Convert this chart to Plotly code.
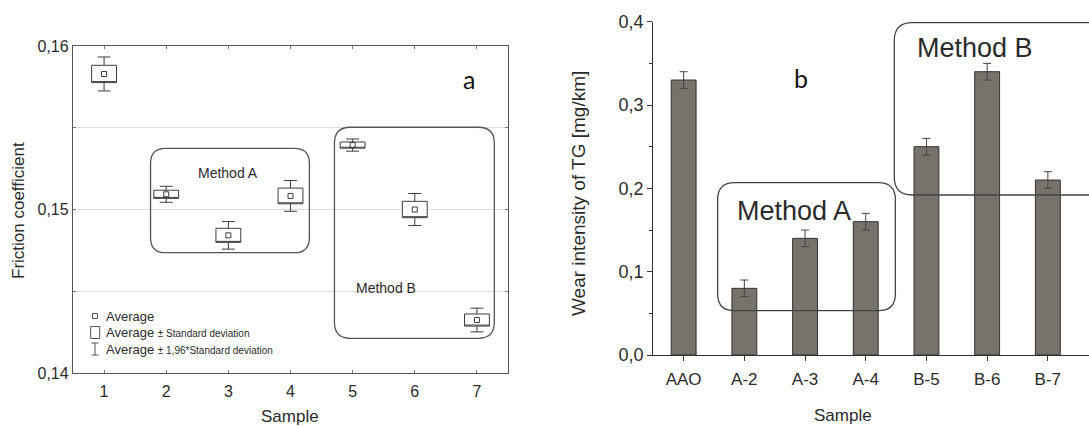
import plotly.graph_objects as go

# ---------------- data ----------------
# panel a: friction coefficient
samples_a = [1, 2, 3, 4, 5, 6, 7]
mean_a = [0.15829, 0.15093, 0.14842, 0.15083, 0.15394, 0.15000, 0.14324]
sd_a = [0.00053, 0.00025, 0.00043, 0.00048, 0.00019, 0.00050, 0.00037]

# panel b: wear intensity
cats_b = ["AAO", "A-2", "A-3", "A-4", "B-5", "B-6", "B-7"]
wear_b = [0.33, 0.08, 0.14, 0.16, 0.25, 0.34, 0.21]
err_b = [0.01, 0.01, 0.01, 0.01, 0.01, 0.01, 0.01]

W, H = 1089, 427
FONT = "Arial, Liberation Sans, sans-serif"
INK = "#2b2b2b"

# layout geometry (pixels -> paper)
LA_X = (73 / W, 508 / W)
LA_Y = (1 - 373 / H, 1 - 46 / H)
RB_X = (653.3 / W, 1.0)
RB_Y = (1 - 355 / H, 1 - 21.7 / H)
XR_A = [0.5, 7.5]
YR_A = [0.14, 0.16]
XR_B = [-0.5, 6.678]
YR_B = [0.0, 0.4]

q1 = [m - s for m, s in zip(mean_a, sd_a)]
q3 = [m + s for m, s in zip(mean_a, sd_a)]
lf = [m - 1.96 * s for m, s in zip(mean_a, sd_a)]
uf = [m + 1.96 * s for m, s in zip(mean_a, sd_a)]

fig = go.Figure()

fig.add_trace(go.Box(
    x=samples_a, q1=q1, median=q1, q3=q3, lowerfence=lf, upperfence=uf,
    width=0.4, whiskerwidth=0.52, boxpoints=False,
    fillcolor="white", line=dict(color="#3c3c3c", width=1),
    xaxis="x", yaxis="y", showlegend=False, hoverinfo="skip",
))
fig.add_trace(go.Scatter(
    x=samples_a, y=mean_a, mode="markers",
    marker=dict(symbol="square-open", size=5, color="#3c3c3c", line=dict(width=1)),
    xaxis="x", yaxis="y", showlegend=False,
))

fig.add_trace(go.Bar(
    x=cats_b, y=wear_b, width=0.41,
    marker=dict(color="#77726c", line=dict(color="#333333", width=1)),
    error_y=dict(type="data", array=err_b, color="#444444", thickness=1, width=4),
    xaxis="x2", yaxis="y2", showlegend=False,
))


def px_per_unit(dom, rng, total):
    return (dom[1] - dom[0]) * total / (rng[1] - rng[0])


def rounded(x0, x1, y0, y1, r_px, sx, sy):
    rx = r_px / sx
    ry = r_px / sy
    return (f"M{x0 + rx},{y1} L{x1 - rx},{y1} Q{x1},{y1} {x1},{y1 - ry} "
            f"L{x1},{y0 + ry} Q{x1},{y0} {x1 - rx},{y0} L{x0 + rx},{y0} "
            f"Q{x0},{y0} {x0},{y0 + ry} L{x0},{y1 - ry} Q{x0},{y1} {x0 + rx},{y1} Z")


sxa = px_per_unit(LA_X, XR_A, W)
sya = px_per_unit(LA_Y, YR_A, H)
sxb = px_per_unit(RB_X, XR_B, W)
syb = px_per_unit(RB_Y, YR_B, H)

shapes = [
    dict(type="path", xref="x", yref="y", path=rounded(1.748, 4.304, 0.14736, 0.15374, 15, sxa, sya),
         line=dict(color="#555555", width=1.3)),
    dict(type="path", xref="x", yref="y", path=rounded(4.707, 7.28, 0.14212, 0.15503, 16, sxa, sya),
         line=dict(color="#555555", width=1.3)),
    dict(type="path", xref="x2", yref="y2", path=rounded(0.56, 3.488, 0.0532, 0.2068, 17, sxb, syb),
         line=dict(color="#444444", width=1.3)),
    dict(type="path", xref="x2", yref="y2", path=rounded(3.47, 7.0, 0.192, 0.399, 18, sxb, syb),
         line=dict(color="#444444", width=1.3)),
]


def P(px, py):
    return px / W, 1 - py / H


# legend glyphs of panel a (paper coordinates)
def prect(x0, y0, x1, y1, w=1):
    a, b = P(x0, y0)
    c, d = P(x1, y1)
    return dict(type="rect", xref="paper", yref="paper", x0=a, y0=b, x1=c, y1=d,
                line=dict(color="#555555", width=w))


def pline(x0, y0, x1, y1):
    a, b = P(x0, y0)
    c, d = P(x1, y1)
    return dict(type="line", xref="paper", yref="paper", x0=a, y0=b, x1=c, y1=d,
                line=dict(color="#555555", width=1))


shapes += [
    prect(92.5, 313.5, 97.5, 318.5),
    prect(90.7, 326.5, 99.7, 338.5),
    pline(95, 343, 95, 355),
    pline(91.5, 343, 98.5, 343),
    pline(91.5, 355, 98.5, 355),
]

ann = []


def txt(text, x, y, size, xref="paper", yref="paper", xanchor="center", angle=0, family=FONT, color=INK):
    ann.append(dict(text=text, x=x, y=y, xref=xref, yref=yref, xanchor=xanchor, yanchor="middle",
                    showarrow=False, textangle=angle, font=dict(family=family, size=size, color=color)))


# panel a texts
txt("Method A", 3.0, 0.15225, 14, "x", "y")
txt("Method B", 5.535, 0.14518, 14, "x", "y")
txt("a", 6.877, 0.15798, 25, "x", "y", family="Lato, Open Sans, sans-serif", color="#111111")
lx, ly = P(104, 316)
txt("Average", lx, ly, 13, xanchor="left")
lx, ly = P(104, 332.5)
txt("Average <span style='font-size:10px'>± Standard deviation</span>", lx, ly, 13, xanchor="left")
lx, ly = P(104, 349)
txt("Average <span style='font-size:10px'>± 1,96*Standard deviation</span>", lx, ly, 13, xanchor="left")
tx, ty = P(18, 211)
txt("Friction coefficient", tx, ty, 17, angle=-90)
tx, ty = P(290, 416)
txt("Sample", tx, ty, 17)

# panel b texts
txt("Method A", 1.81, 0.173, 27, "x2", "y2")
txt("Method B", 4.8, 0.368, 27, "x2", "y2")
txt("b", 1.94, 0.332, 25, "x2", "y2", family="Lato, Open Sans, sans-serif", color="#111111")
tx, ty = P(578, 194)
txt("Wear intensity of TG [mg/km]", tx, ty, 19, angle=-90)
tx, ty = P(843, 415)
txt("Sample", tx, ty, 17)

fig.update_layout(
    width=W, height=H,
    margin=dict(l=0, r=0, t=0, b=0, autoexpand=False),
    paper_bgcolor="white", plot_bgcolor="white",
    separators=",.",
    font=dict(family=FONT, color=INK),
    showlegend=False,
    shapes=shapes,
    annotations=ann,
    xaxis=dict(domain=list(LA_X), range=XR_A, tickvals=samples_a, showline=True, mirror="ticks",
               linecolor="#555555", linewidth=1.3, ticks="inside", ticklen=3, tickcolor="#777777",
               showgrid=False, zeroline=False, tickfont=dict(size=16, color=INK),
               ticklabelstandoff=4, anchor="y"),
    yaxis=dict(domain=list(LA_Y), range=YR_A, dtick=0.01, tickformat=".2f", showline=True, mirror="ticks",
               linecolor="#555555", linewidth=1.3, ticks="inside", ticklen=3, tickcolor="#777777",
               showgrid=True, gridcolor="#dddddd", gridwidth=1, zeroline=False,
               minor=dict(dtick=0.005, showgrid=True, gridcolor="#dddddd", ticks="inside", ticklen=3),
               tickfont=dict(size=16, color=INK), anchor="x"),
    xaxis2=dict(domain=list(RB_X), range=XR_B, type="category", showline=True, linecolor="#333333",
                linewidth=1.3, ticks="outside", ticklen=5, tickcolor="#333333", showgrid=False,
                zeroline=False, tickfont=dict(size=17, color=INK), ticklabelstandoff=3, anchor="y2"),
    yaxis2=dict(domain=list(RB_Y), range=YR_B, dtick=0.1, tickformat=".1f", showline=True,
                linecolor="#333333", linewidth=1.3, ticks="outside", ticklen=5, tickcolor="#333333",
                minor=dict(dtick=0.05, ticks="outside", ticklen=3, tickcolor="#333333"),
                showgrid=False, zeroline=False, tickfont=dict(size=18, color=INK), anchor="x2"),
)

fig.write_html("out.html")
